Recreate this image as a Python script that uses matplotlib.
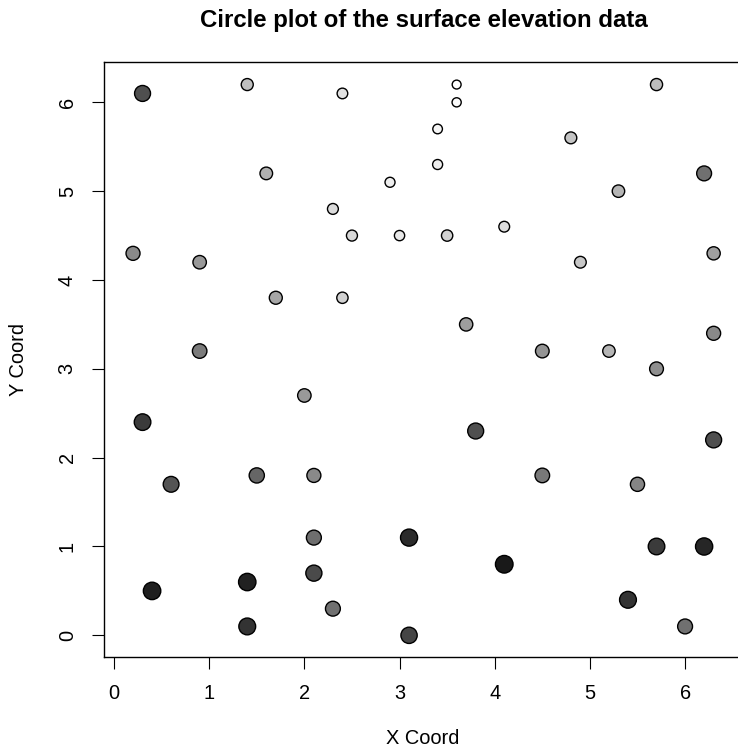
import matplotlib
matplotlib.use("Agg")
import matplotlib.pyplot as plt
import numpy as np

plt.rcParams["font.family"] = ["Liberation Sans", "DejaVu Sans"]

# Surface elevation points (coords, elevation estimated from shade)
x_coord = [0.3, 1.4, 2.4, 3.6, 3.6, 5.7, 1.6, 2.9, 3.4, 3.4, 4.8, 5.3, 6.2,
           0.2, 0.9, 2.3, 2.5, 3.0, 3.5, 4.1, 4.9, 6.3, 0.9, 1.7, 2.4, 3.7,
           4.5, 5.2, 6.3, 5.7, 2.0, 0.3, 3.8, 6.3, 0.6, 1.5, 2.1, 4.5, 5.5,
           2.1, 3.1, 5.7, 6.2, 0.4, 1.4, 2.1, 2.3, 4.1, 5.4, 1.4, 3.1, 6.0]
y_coord = [6.1, 6.2, 6.1, 6.2, 6.0, 6.2, 5.2, 5.1, 5.3, 5.7, 5.6, 5.0, 5.2,
           4.3, 4.2, 4.8, 4.5, 4.5, 4.5, 4.6, 4.2, 4.3, 3.2, 3.8, 3.8, 3.5,
           3.2, 3.2, 3.4, 3.0, 2.7, 2.4, 2.3, 2.2, 1.7, 1.8, 1.8, 1.8, 1.7,
           1.1, 1.1, 1.0, 1.0, 0.5, 0.6, 0.7, 0.3, 0.8, 0.4, 0.1, 0.0, 0.1]
elev = [882, 759, 723, 690, 693, 762, 776, 709, 709, 701, 754, 771, 846,
        818, 801, 729, 732, 715, 740, 726, 751, 793, 834, 787, 740, 796,
        807, 771, 818, 812, 801, 904, 882, 882, 876, 857, 818, 837, 823,
        848, 921, 904, 926, 934, 932, 887, 846, 940, 912, 912, 893, 846]

z = np.array(elev, dtype=float)
t = (z - z.min()) / (z.max() - z.min())
shade = [str(v) for v in 1.0 - 0.9 * t]           # higher ground = darker
diam_px = 10.3 + 8.7 * t ** 0.8                    # higher ground = bigger circle
size = ((diam_px - 1.4) * 0.72) ** 2

fig = plt.figure(figsize=(7.38, 7.51), dpi=100)
ax = fig.add_axes([104 / 738, 1 - 657 / 751, (746 - 104) / 738, (657 - 62) / 751])

ax.scatter(x_coord, y_coord, s=size, c=shade, edgecolors="black", linewidths=1.0, zorder=3)

ax.set_xlim(-0.105, 6.64)
ax.set_ylim(-0.244, 6.454)
ax.set_xticks(range(7))
ax.set_yticks(range(7))
ax.tick_params(direction="out", length=8.6, width=0.8, pad=11, labelsize=14.4)
ax.tick_params(axis="y", labelrotation=90)
for lab in ax.get_yticklabels():
    lab.set_va("center")
for sp in ax.spines.values():
    sp.set_linewidth(1.0)

fig.text(424 / 738, 1 - 20 / 751, "Circle plot of the surface elevation data",
         ha="center", va="center", fontsize=17.3, fontweight="bold")
fig.text(423 / 738, 1 - 738 / 751, "X Coord", ha="center", va="center", fontsize=14.4)
fig.text(18 / 738, 1 - 360 / 751, "Y Coord", ha="center", va="center",
         rotation=90, fontsize=14.4)

fig.savefig("out.png", dpi=100)
